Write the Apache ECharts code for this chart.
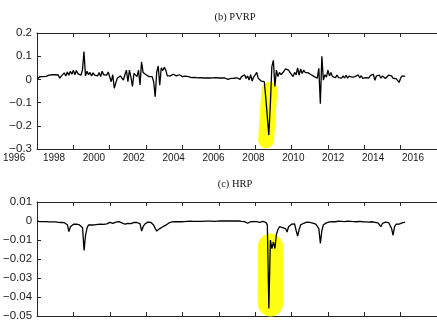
<!DOCTYPE html>
<html>
<head>
<meta charset="utf-8">
<script src="https://cdn.jsdelivr.net/npm/echarts@6/dist/echarts.min.js"></script>
<style>
  html, body { margin: 0; padding: 0; background: #fff; }
  #chart { width: 437px; height: 322px; }
</style>
</head>
<body>
<div id="chart"></div>
<script>
// monthly observations, Jan 1996 .. Apr 2016
const startYear = 1996;

const pvrp = [
  // 1996
  0.002, 0.010, 0.012, 0.011, 0.012, 0.010, 0.013, 0.012, 0.018, 0.022, 0.020, 0.021,
  // 1997
  0.020, 0.022, 0.019, 0.005, 0.014, 0.020, 0.028, 0.015, 0.032, 0.018, 0.035, 0.022,
  // 1998
  0.040, 0.020, 0.038, 0.025, 0.030, 0.018, 0.040, 0.120, 0.015, 0.035, 0.020, 0.030,
  // 1999
  0.015, 0.028, 0.018, 0.025, 0.015, 0.030, 0.012, 0.035, 0.020, 0.028, 0.018, 0.032,
  // 2000
  0.035, -0.010, 0.020, -0.038, -0.015, 0.005, 0.010, 0.015, 0.008, -0.003, 0.020, 0.040,
  // 2001
  -0.010, 0.040, 0.010, -0.030, 0.026, 0.020, 0.012, 0.040, -0.024, 0.076, 0.030, 0.025,
  // 2002
  0.020, 0.015, 0.012, 0.005, 0.012, -0.010, -0.075, 0.030, 0.058, -0.025, 0.050, 0.038,
  // 2003
  0.052, 0.040, 0.015, 0.012, 0.015, 0.020, 0.022, 0.030, 0.015, 0.018, 0.020, 0.014,
  // 2004
  0.012, 0.010, 0.014, 0.009, 0.012, 0.010, 0.008, 0.011, 0.009, 0.010, 0.007, 0.009,
  // 2005
  0.008, 0.009, 0.006, 0.008, 0.007, 0.009, 0.006, 0.008, 0.007, 0.005, 0.008, 0.006,
  // 2006
  0.006, 0.005, 0.007, 0.004, 0.006, 0.005, 0.000, 0.006, 0.004, 0.007, 0.005, 0.006,
  // 2007
  0.007, 0.004, 0.000, 0.012, 0.008, 0.020, 0.004, 0.015, -0.003, 0.020, -0.007, 0.010,
  // 2008
  0.019, 0.030, 0.005, 0.012, -0.007, -0.003, -0.010, -0.080, -0.160, -0.240, -0.110, 0.055,
  // 2009
  0.082, -0.030, 0.040, 0.012, 0.030, 0.020, 0.028, 0.035, 0.046, 0.050, 0.040, 0.030,
  // 2010
  0.033, 0.012, 0.030, 0.020, 0.050, 0.018, 0.045, 0.025, 0.040, 0.030, 0.033, 0.028,
  // 2011
  0.025, 0.020, 0.015, 0.012, 0.008, 0.005, 0.048, -0.105, 0.100, -0.003, 0.020, 0.010,
  // 2012
  0.040, 0.015, 0.030, 0.012, 0.020, 0.008, 0.018, 0.008, 0.012, 0.005, 0.015, 0.006,
  // 2013
  0.018, 0.005, 0.014, 0.008, 0.010, 0.002, 0.012, 0.015, 0.020, 0.006, 0.016, 0.004,
  // 2014
  0.012, 0.008, 0.015, 0.006, 0.016, 0.010, 0.023, -0.004, 0.015, 0.010, 0.018, 0.005,
  // 2015
  0.015, 0.009, 0.004, 0.012, 0.018, 0.010, 0.015, 0.005, 0.013, 0.003, 0.011, -0.013,
  // 2016
  0.006, 0.015, 0.010, 0.013
];

const hrp = [
  // 1996
  -0.0001, -0.0002, -0.0003, -0.0002, -0.0003, -0.0004, -0.0003, -0.0004, -0.0005, -0.0004, -0.0005, -0.0006,
  // 1997
  -0.0005, -0.0006, -0.0007, -0.0006, -0.0008, -0.0007, -0.0009, -0.0012, -0.0020, -0.0056, -0.0030, -0.0020,
  // 1998
  -0.0017, -0.0019, -0.0016, -0.0018, -0.0021, -0.0022, -0.0035, -0.0155, -0.0074, -0.0036, -0.0020, -0.0025,
  // 1999
  -0.0021, -0.0025, -0.0020, -0.0023, -0.0018, -0.0021, -0.0017, -0.0021, -0.0018, -0.0020, -0.0015, -0.0013,
  // 2000
  -0.0007, -0.0010, -0.0012, -0.0008, -0.0006, -0.0004, -0.0003, -0.0007, -0.0010, -0.0012, -0.0017, -0.0016,
  // 2001
  -0.0012, -0.0019, -0.0014, -0.0010, -0.0007, -0.0005, -0.0008, -0.0010, -0.0015, -0.0053, -0.0030, -0.0017,
  // 2002
  -0.0012, -0.0006, -0.0004, -0.0007, -0.0012, -0.0022, -0.0040, -0.0053, -0.0047, -0.0040, -0.0032, -0.0030,
  // 2003
  -0.0025, -0.0022, -0.0018, -0.0010, -0.0006, -0.0005, -0.0007, -0.0004, -0.0006, -0.0003, -0.0006, -0.0004,
  // 2004
  -0.0002, -0.0003, -0.0001, -0.0002, -0.0003, -0.0001, -0.0002, -0.0002, -0.0001, -0.0002, -0.0001, -0.0002,
  // 2005
  -0.0001, -0.0002, -0.0001, -0.0001, -0.0002, -0.0001, -0.0002, -0.0001, -0.0001, -0.0002, -0.0001, -0.0001,
  // 2006
  -0.0001, 0.0000, -0.0001, 0.0000, -0.0001, 0.0000, 0.0001, 0.0000, -0.0001, 0.0000, 0.0000, 0.0001,
  // 2007
  0.0001, 0.0000, -0.0001, -0.0002, -0.0007, -0.0003, -0.0006, -0.0012, -0.0007, -0.0004, -0.0006, -0.0003,
  // 2008
  -0.0004, -0.0003, -0.0005, -0.0007, -0.0004, -0.0002, -0.0004, -0.0007, -0.0020, -0.0460, -0.0100, -0.0145,
  // 2009
  -0.0110, -0.0145, -0.0070, -0.0045, -0.0030, -0.0025, -0.0035, -0.0030, -0.0040, -0.0058, -0.0030, -0.0020,
  // 2010
  -0.0017, -0.0020, -0.0015, -0.0050, -0.0080, -0.0045, -0.0020, -0.0015, -0.0012, -0.0008, -0.0006, -0.0005,
  // 2011
  -0.0007, -0.0008, -0.0011, -0.0012, -0.0016, -0.0020, -0.0040, -0.0118, -0.0050, -0.0020, -0.0013, -0.0010,
  // 2012
  -0.0008, -0.0005, -0.0006, -0.0003, -0.0002, -0.0004, -0.0002, -0.0001, -0.0003, -0.0002, -0.0004, -0.0003,
  // 2013
  -0.0002, -0.0001, -0.0003, -0.0002, -0.0004, -0.0003, -0.0002, -0.0004, -0.0003, -0.0002, -0.0003, -0.0004,
  // 2014
  -0.0003, -0.0005, -0.0004, -0.0006, -0.0005, -0.0004, -0.0006, -0.0007, -0.0006, -0.0010, -0.0017, -0.0030,
  // 2015
  -0.0012, -0.0007, -0.0006, -0.0004, -0.0008, -0.0012, -0.0039, -0.0075, -0.0030, -0.0017, -0.0020, -0.0016,
  // 2016
  -0.0018, -0.0010, -0.0008, -0.0006
];

// yellow marker strokes over the 2008 crash (data coordinates)
const highlightTop = [[2008.78, -0.045], [2008.6, -0.262]];
const highlightBottom = [[2008.84, -0.0132], [2008.84, -0.0437]];

const titles = ['(b) PVRP', '(c) HRP'];

const toPairs = arr => arr.map((v, i) => [startYear + i / 12, v]);

// MATLAB-like tick labels: no thousands separator, long minus
const fmtY = v => String(Math.round(v * 1000) / 1000).replace('-', '\u2212');
const fmtX = v => String(v);

const chart = echarts.init(document.getElementById('chart'));

const axisColor = '#262626';
const labelStyle = { color: '#1a1a1a', fontFamily: 'Liberation Sans' };

function xAxes(gridIndex) {
  const base = {
    type: 'value',
    gridIndex: gridIndex,
    min: 1996,
    max: 2018,
    interval: 2,
    splitLine: { show: false },
    axisLabel: { show: false },
    axisLine: { show: true, onZero: false, lineStyle: { color: axisColor, width: 1 } },
    axisTick: { show: true, inside: true, length: 4, lineStyle: { color: axisColor } },
  };
  return [
    Object.assign({}, base, { position: 'bottom' }),
    Object.assign({}, base, { position: 'top' })
  ];
}

function yAxis(gridIndex, min, max, interval) {
  return {
    type: 'value',
    gridIndex: gridIndex,
    min: min,
    max: max,
    interval: interval,
    splitLine: { show: false },
    axisLine: { show: true, onZero: false, lineStyle: { color: axisColor, width: 1 } },
    axisTick: { show: true, inside: true, length: 4, lineStyle: { color: axisColor } },
    axisLabel: Object.assign({ margin: 5, fontSize: 11.5, formatter: fmtY }, labelStyle)
  };
}

// year labels in the source sit on a slightly wider span than the ticks,
// so they get their own label-only axis
const yearLabelAxis = {
  type: 'value',
  gridIndex: 2,
  min: 1996,
  max: 2016,
  interval: 2,
  position: 'bottom',
  splitLine: { show: false },
  axisLine: { show: false },
  axisTick: { show: false },
  axisLabel: Object.assign({ margin: 4, fontSize: 10, formatter: fmtX }, labelStyle)
};

const option = {
  animation: false,
  backgroundColor: '#fff',
  title: titles.map((t, i) => ({
    text: t,
    left: 230,
    top: i === 0 ? 7 : 174,
    textAlign: 'center',
    textStyle: { fontFamily: 'Liberation Serif', fontSize: 10.5, fontWeight: 'normal', color: '#111' }
  })),
  grid: [
    { left: 37, top: 33, right: -14.7, height: 116 },
    { left: 37, top: 202, right: -14.7, height: 114 },
    { left: 14, top: 33, right: 24, height: 116 }
  ],
  xAxis: [].concat(xAxes(0), xAxes(1), [yearLabelAxis]),
  yAxis: [
    yAxis(0, -0.3, 0.2, 0.1),
    yAxis(1, -0.05, 0.01, 0.01),
    { type: 'value', gridIndex: 2, min: 0, max: 1, show: false }
  ],
  series: [
    {
      type: 'line', xAxisIndex: 0, yAxisIndex: 0, data: highlightTop,
      symbol: 'none', silent: true, z: 1,
      lineStyle: { color: '#ffff14', width: 16, cap: 'round' }
    },
    {
      type: 'line', xAxisIndex: 2, yAxisIndex: 1, data: highlightBottom,
      symbol: 'none', silent: true, z: 1,
      lineStyle: { color: '#ffff14', width: 25, cap: 'round' }
    },
    {
      name: 'PVRP', type: 'line', xAxisIndex: 0, yAxisIndex: 0,
      data: toPairs(pvrp), symbol: 'none', z: 3,
      lineStyle: { color: '#000', width: 1.3 }
    },
    {
      name: 'HRP', type: 'line', xAxisIndex: 2, yAxisIndex: 1,
      data: toPairs(hrp), symbol: 'none', z: 3,
      lineStyle: { color: '#000', width: 1.3 }
    }
  ]
};

chart.setOption(option);
</script>
</body>
</html>
